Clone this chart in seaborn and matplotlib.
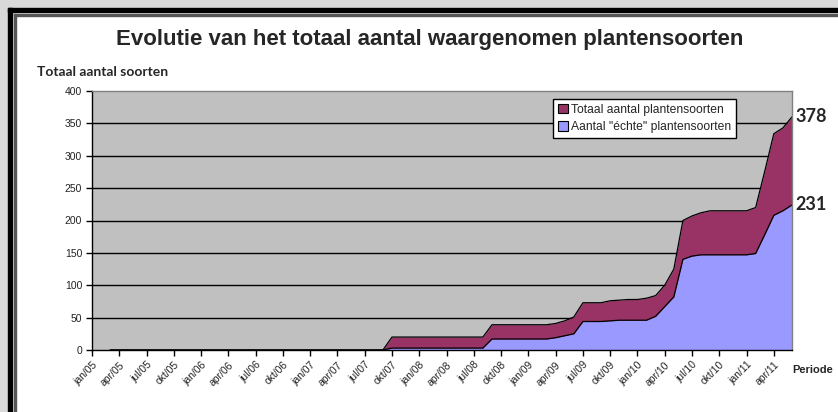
import numpy as np
import pandas as pd
import seaborn as sns
import matplotlib.pyplot as plt
from matplotlib.patches import Rectangle

# months jan/05 .. jun/11
month_names = ['jan', 'feb', 'mrt', 'apr', 'mei', 'jun', 'jul', 'aug', 'sep', 'okt', 'nov', 'dec']
months = [f"{m}/{y:02d}" for y in range(5, 12) for m in month_names][:78]

totaal = ([np.nan, np.nan] + [0] * 31 + [20] * 11 + [39] * 7 +
          [41, 45, 51, 73, 73, 73, 76, 77, 78, 78, 80,
           84, 100, 125, 200, 207, 212, 215, 215, 215, 215, 215,
           220, 276, 334, 343, 360])
# number of "real" plant species
echte = ([np.nan, np.nan] + [0] * 31 + [3] * 11 + [17] * 7 +
         [19, 22, 25, 44, 44, 44, 45, 46, 46, 46, 46,
          52, 67, 82, 140, 145, 147, 147, 147, 147, 147, 147,
          149, 178, 208, 215, 224])

df = pd.DataFrame({'maand': months, 'totaal': totaal, 'echte': echte})
df['x'] = range(len(df))

sns.set_style('white')
plt.rcParams['font.family'] = ['Liberation Sans', 'DejaVu Sans']

fig = plt.figure(figsize=(8.38, 4.12), dpi=100)
fig.patch.set_facecolor('white')

# outer frame like the original screenshot
W, H = 838, 412
def px_rect(x, y, w, h, color):
    fig.patches.append(Rectangle((x / W, 1 - (y + h) / H), w / W, h / H,
                                 transform=fig.transFigure, color=color, zorder=0))
px_rect(0, 0, W, 8, '#d9d9d9')
px_rect(0, 0, 8, H, '#d9d9d9')
px_rect(8, 8, W, 4, 'black')
px_rect(8, 8, 4, H, 'black')
px_rect(14, 14, W, 1.5, '#555555')
px_rect(14, 14, 1.5, H, '#555555')

ax = fig.add_axes([92 / W, 62 / H, 700 / W, 259 / H])
ax.set_facecolor('#c0c0c0')

purple = '#993366'
blue = '#9999ff'

ax.fill_between(df['x'], df['totaal'], 0, color=purple, linewidth=0, label='Totaal aantal plantensoorten')
ax.fill_between(df['x'], df['echte'], 0, color=blue, linewidth=0, label='Aantal "échte" plantensoorten')
sns.lineplot(data=df, x='x', y='totaal', ax=ax, color='black', linewidth=0.9, legend=False)
sns.lineplot(data=df, x='x', y='echte', ax=ax, color='black', linewidth=0.9, legend=False)

ax.set_xlim(0, 77)
ax.set_ylim(0, 400)
ax.set_yticks(range(0, 401, 50))
ax.set_yticklabels([str(v) for v in range(0, 401, 50)], fontsize=7.5, color='#222222')
for v in range(50, 400, 50):
    ax.axhline(v, color='black', linewidth=1, zorder=0.5)

xt = list(range(0, 78, 3))
ax.set_xticks(xt)
ax.set_xticklabels([months[i] for i in xt], rotation=45, ha='right', fontsize=7.5, color='#222222',
                   rotation_mode='anchor')
ax.tick_params(axis='both', direction='out', length=4, width=1, color='black', bottom=True, left=True, pad=3)
ax.set_xlabel('')
ax.set_ylabel('')

for side in ['top', 'right']:
    ax.spines[side].set_color('#808080')
    ax.spines[side].set_linewidth(1)
for side in ['left', 'bottom']:
    ax.spines[side].set_color('black')
    ax.spines[side].set_linewidth(1)

leg = ax.legend(loc='upper left', bbox_to_anchor=(0.659, 0.969), fontsize=8.7, frameon=True,
                fancybox=False, edgecolor='black', framealpha=1, handlelength=0.8, handleheight=0.8,
                handletextpad=0.3, borderpad=0.4, labelspacing=0.45, borderaxespad=0)
leg.get_frame().set_linewidth(1)
for h in leg.legend_handles:
    h.set_edgecolor('black')
    h.set_linewidth(0.8)

fig.text(430 / W, 1 - 40 / H, 'Evolutie van het totaal aantal waargenomen plantensoorten',
         ha='center', va='center', fontsize=16, fontweight='bold')
fig.text(37 / W, 1 - 72 / H, 'Totaal aantal soorten', ha='left', va='center', fontsize=10,
         fontweight='bold', family=['Lato', 'DejaVu Sans'])
fig.text(833 / W, 1 - 370 / H, 'Periode', ha='right', va='center', fontsize=8, fontweight='bold')
fig.text(795 / W, 1 - 116 / H, '378', ha='left', va='center', fontsize=13, fontweight='bold',
         family=['Lato', 'DejaVu Sans'])
fig.text(795 / W, 1 - 205 / H, '231', ha='left', va='center', fontsize=13, fontweight='bold',
         family=['Lato', 'DejaVu Sans'])

fig.savefig('out.png', dpi=100)
